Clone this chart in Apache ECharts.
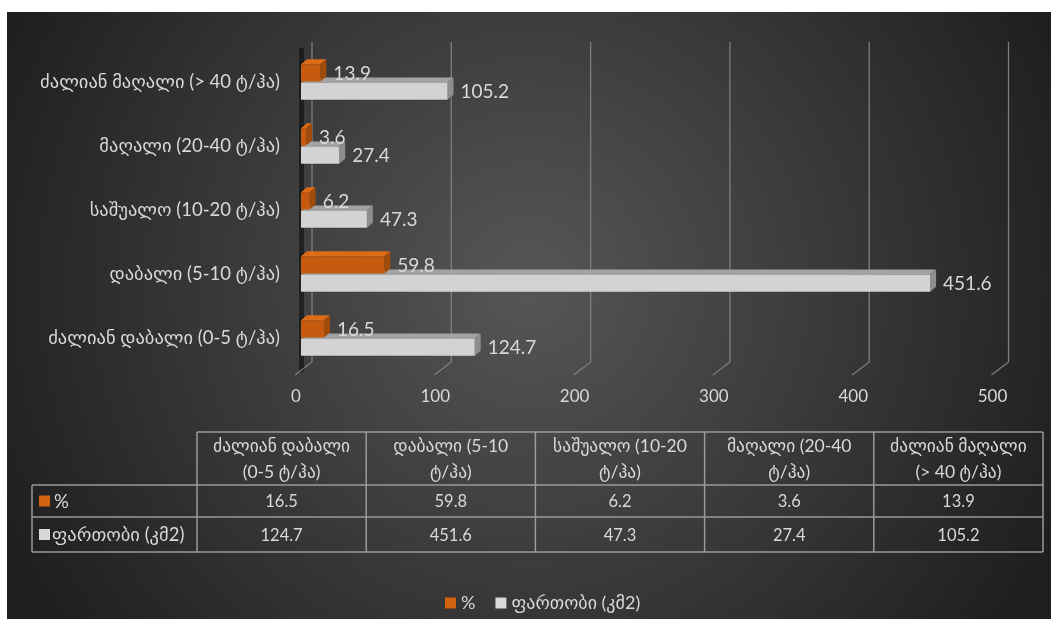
<!DOCTYPE html>
<html><head><meta charset="utf-8">
<script src="https://cdn.jsdelivr.net/npm/echarts@6/dist/echarts.min.js"></script>
<style>html,body{margin:0;padding:0;background:#fff;}#c{width:1051px;height:619px;}</style>
</head><body><div id="c"></div>
<script>
// ---- data ----
const categories = ['ძალიან დაბალი (0-5 ტ/ჰა)', 'დაბალი (5-10 ტ/ჰა)', 'საშუალო (10-20 ტ/ჰა)', 'მაღალი (20-40 ტ/ჰა)', 'ძალიან მაღალი (> 40 ტ/ჰა)'];
const seriesNames = ['%', 'ფართობი (კმ2)'];
const pctValues = [16.5, 59.8, 6.2, 3.6, 13.9];
const areaValues = [124.7, 451.6, 47.3, 27.4, 105.2];
const xTicks = [0, 100, 200, 300, 400, 500];

// ---- styling ----
const FONT = "Lato, 'DejaVu Sans', sans-serif";
const TXT = '#D9D9D9';
const ORANGE = {front: '#C65B0F', top: '#DC6C17', side: '#A04A0B'};
const GREY = {front: '#D3D3D3', top: '#A3A3A3', side: '#8E8E8E'};

function make3dBar(which, faces) {
  return function (params, api) {
    const v = api.value(0), c = api.value(1);
    const p0 = api.coord([0, c]), p1 = api.coord([v, c]);
    const bw = api.size([0, 1])[1];
    const h = bw * 0.27;
    const y0 = which === 0 ? p0[1] - h - 0.5 : p0[1] + 0.5;
    const x0 = p0[0], x1 = p1[0];
    const dx = 6, dy = -5;
    return {type: 'group', children: [
      {type: 'polygon', shape: {points: [[x0, y0], [x1, y0], [x1 + dx, y0 + dy], [x0 + dx, y0 + dy]]}, style: {fill: faces.top}},
      {type: 'polygon', shape: {points: [[x1, y0], [x1 + dx, y0 + dy], [x1 + dx, y0 + h + dy], [x1, y0 + h]]}, style: {fill: faces.side}},
      {type: 'rect', shape: {x: x0, y: y0, width: x1 - x0, height: h}, style: {fill: faces.front}},
      {type: 'text', style: {text: v.toFixed(1), x: x1 + 13, y: y0 + h / 2 + 1, verticalAlign: 'middle', align: 'left', fill: TXT, font: '19px ' + FONT}}
    ]};
  };
}

function wrap(s, max) {
  const words = s.split(' ');
  const lines = [];
  let cur = '';
  words.forEach(w => {
    const t = cur ? cur + ' ' + w : w;
    if (t.length > max && cur) { lines.push(cur); cur = w; } else cur = t;
  });
  if (cur) lines.push(cur);
  return lines.join('\n');
}

// ---- table (built from arrays) ----
const T = {x0: 32, xh: 197, colW: 169.2, y0: 432, y1: 485, y2: 517, y3: 552};
const xEnd = T.xh + T.colW * categories.length;
const LINE = {stroke: '#9A9A9A', lineWidth: 1.5};
const graphics = [];
graphics.push({type: 'rect', z: -10, silent: true, shape: {x: 7, y: 12, width: 1044, height: 607},
  style: {fill: new echarts.graphic.RadialGradient(0.5, 0.45, 0.95, [{offset: 0, color: '#565656'}, {offset: 1, color: '#1f1f1f'}])}});
[[T.xh, T.y0], [T.x0, T.y1], [T.x0, T.y2], [T.x0, T.y3]].forEach(([xs, y]) => {
  graphics.push({type: 'line', shape: {x1: xs, y1: y, x2: xEnd, y2: y}, style: LINE});
});
graphics.push({type: 'line', shape: {x1: T.x0, y1: T.y1, x2: T.x0, y2: T.y3}, style: LINE});
for (let k = 0; k <= categories.length; k++) {
  const x = T.xh + k * T.colW;
  graphics.push({type: 'line', shape: {x1: x, y1: T.y0, x2: x, y2: T.y3}, style: LINE});
}
categories.forEach((c, i) => {
  const cx = T.xh + (i + 0.5) * T.colW;
  graphics.push({type: 'text', style: {text: wrap(c, 14), x: cx, y: (T.y0 + T.y1) / 2 + 1, align: 'center', verticalAlign: 'middle', lineHeight: 26, fill: TXT, font: '17.5px ' + FONT}});
  graphics.push({type: 'text', style: {text: pctValues[i].toFixed(1), x: cx, y: (T.y1 + T.y2) / 2 + 1, align: 'center', verticalAlign: 'middle', fill: TXT, font: '16.5px ' + FONT}});
  graphics.push({type: 'text', style: {text: areaValues[i].toFixed(1), x: cx, y: (T.y2 + T.y3) / 2 + 1, align: 'center', verticalAlign: 'middle', fill: TXT, font: '16.5px ' + FONT}});
});
[[T.y1, T.y2, 54], [T.y2, T.y3, 52]].forEach(([ya, yb, tx], j) => {
  const cy = (ya + yb) / 2;
  graphics.push({type: 'rect', shape: {x: 39, y: cy - 5.5, width: 11, height: 11}, style: {fill: j === 0 ? '#D4620F' : '#D9D9D9'}});
  graphics.push({type: 'text', style: {text: seriesNames[j], x: tx, y: cy + 1, align: 'left', verticalAlign: 'middle', fill: TXT, font: '18.5px ' + FONT}});
});

const chart = echarts.init(document.getElementById('c'), null, {renderer: 'canvas'});
chart.setOption({
  backgroundColor: '#ffffff',
  animation: false,
  graphic: graphics,
  legend: {
    data: seriesNames, left: 440, top: 589, icon: 'rect', itemWidth: 11, itemHeight: 11, itemGap: 20,
    textStyle: {color: TXT, fontSize: 18, fontFamily: FONT}
  },
  grid: {left: 301, right: 53.5, top: 50, height: 320, containLabel: false},
  xAxis: {
    type: 'value', min: 0, max: 500, interval: 100,
    axisLine: {show: false}, axisTick: {show: false}, splitLine: {show: false},
    axisLabel: {color: TXT, fontSize: 17, fontFamily: FONT, margin: 18, padding: [0, 10, 0, 0]}
  },
  yAxis: {
    type: 'category', data: categories, offset: 2,
    axisLine: {show: true, lineStyle: {color: 'rgba(8,8,8,0.55)', width: 5}},
    axisTick: {show: false},
    axisLabel: {color: TXT, fontSize: 18.5, fontFamily: FONT, margin: 19, padding: [8, 0, 0, 0]}
  },
  series: [
    {
      name: seriesNames[0], type: 'custom', z: 4, itemStyle: {color: '#D4620F'},
      encode: {x: 0, y: 1},
      data: pctValues.map((v, i) => [v, i]),
      renderItem: make3dBar(0, ORANGE)
    },
    {
      name: seriesNames[1], type: 'custom', z: 3, itemStyle: {color: '#D9D9D9'},
      encode: {x: 0, y: 1},
      data: areaValues.map((v, i) => [v, i]),
      renderItem: make3dBar(1, GREY)
    },
    {
      name: 'grid', type: 'custom', z: 1, silent: true,
      encode: {x: 0, y: 1},
      data: xTicks.map(t => [t, 0]),
      renderItem: function (params, api) {
        const x = api.coord([api.value(0), 0])[0];
        const cs = params.coordSys;
        const top = cs.y - 8, bot = cs.y + cs.height - 8;
        return {type: 'polyline', shape: {points: [[x + 11, top], [x + 11, bot], [x - 6, bot + 13]]},
          style: {stroke: '#7E7E7E', lineWidth: 1.3, fill: null}};
      }
    }
  ]
});
</script></body></html>
